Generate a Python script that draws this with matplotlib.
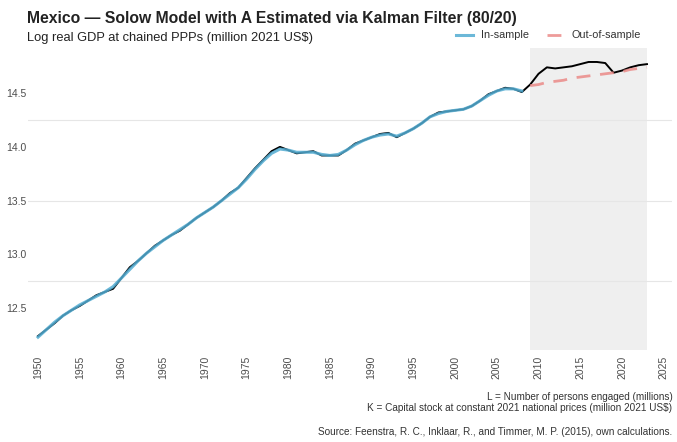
import matplotlib
matplotlib.use("Agg")
import matplotlib.pyplot as plt

plt.rcParams['font.family'] = ['Liberation Sans', 'DejaVu Sans']

# Annual observations, 1950-2023
years = list(range(1950, 2024))
actual = [12.24, 12.30, 12.36, 12.43, 12.48, 12.52, 12.57, 12.62, 12.65, 12.68,
          12.78, 12.88, 12.94, 13.01, 13.08, 13.13, 13.18, 13.22, 13.28, 13.34,
          13.39, 13.44, 13.50, 13.57, 13.62, 13.71, 13.80, 13.88, 13.96, 14.00,
          13.97, 13.94, 13.95, 13.96, 13.92, 13.92, 13.92, 13.97, 14.03, 14.06,
          14.09, 14.12, 14.13, 14.09, 14.13, 14.17, 14.22, 14.28, 14.32, 14.33,
          14.34, 14.35, 14.38, 14.43, 14.49, 14.52, 14.55, 14.54, 14.51, 14.58,
          14.68, 14.74, 14.73, 14.74, 14.75, 14.77, 14.79, 14.79, 14.78, 14.69,
          14.71, 14.74, 14.76, 14.77]

# In-sample fit, 1950-2008
fit_years = list(range(1950, 2009))
fitted = [12.23, 12.30, 12.37, 12.43, 12.48, 12.53, 12.57, 12.61, 12.65, 12.70,
          12.78, 12.86, 12.94, 13.01, 13.07, 13.13, 13.18, 13.23, 13.28, 13.34,
          13.39, 13.44, 13.50, 13.56, 13.62, 13.70, 13.79, 13.87, 13.94, 13.98,
          13.97, 13.95, 13.95, 13.95, 13.93, 13.92, 13.93, 13.97, 14.02, 14.06,
          14.09, 14.11, 14.12, 14.10, 14.13, 14.17, 14.22, 14.28, 14.31, 14.33,
          14.34, 14.35, 14.38, 14.43, 14.48, 14.52, 14.54, 14.54, 14.52]

# Out-of-sample forecast, 2009-2023
oos_years = list(range(2009, 2024))
forecast = [14.57, 14.58, 14.60, 14.61, 14.62, 14.64, 14.65, 14.66, 14.67, 14.68,
            14.69, 14.70, 14.72, 14.73, 14.74]

y_ticks = [12.5, 13.0, 13.5, 14.0, 14.5]
grid_levels = [12.75, 13.5, 14.25]
x_ticks = list(range(1950, 2030, 5))

fig = plt.figure(figsize=(6.77, 4.42), dpi=100)
ax = fig.add_axes([0.0414, 0.2081, 0.9512, 0.6833])

ax.axvspan(oos_years[0], oos_years[-1], color='#efefef', zorder=0, lw=0)
for g in grid_levels:
    ax.axhline(g, color='#e6e6e6', lw=0.8, zorder=0.5)

ax.plot(years, actual, color='black', lw=1.4, zorder=2)
ax.plot(fit_years, fitted, color='#52acd2', lw=2.2, alpha=0.85, zorder=3,
        label='In-sample')
ax.plot(oos_years, forecast, color='#eb8a88', lw=2.0, alpha=0.85, zorder=3,
        dashes=(5, 3.5), label='Out-of-sample')

ax.set_xlim(1948.8, 2026.0)
ax.set_ylim(12.11, 14.92)
ax.set_yticks(y_ticks)
ax.set_yticklabels([f"{v:.1f}" for v in y_ticks])
ax.set_xticks(x_ticks)
ax.set_xticklabels([str(v) for v in x_ticks], rotation=90)
ax.tick_params(axis='both', length=0, labelsize=7.5, colors='#4d4d4d')
ax.tick_params(axis='x', pad=4)
ax.tick_params(axis='y', pad=1)
for s in ax.spines.values():
    s.set_visible(False)

fig.text(0.04, 0.958, "Mexico \u2014 Solow Model with A Estimated via Kalman Filter (80/20)",
         fontsize=11.3, fontweight='bold', color='#222222', va='center', ha='left')
fig.text(0.04, 0.915, "Log real GDP at chained PPPs (million 2021 US$)",
         fontsize=9.3, color='#222222', va='center', ha='left')

leg = fig.legend(loc='center right', bbox_to_anchor=(0.961, 0.92), ncol=2,
                 frameon=False, fontsize=7.8, handlelength=1.5, columnspacing=1.6,
                 handletextpad=0.8)
for t in leg.get_texts():
    t.set_color('#333333')

fig.text(0.993, 0.102, "L = Number of persons engaged (millions)",
         fontsize=7.2, color='#333333', ha='right', va='center')
fig.text(0.993, 0.077, "K = Capital stock at constant 2021 national prices (million 2021 US$)",
         fontsize=7.2, color='#333333', ha='right', va='center')
fig.text(0.993, 0.022, "Source: Feenstra, R. C., Inklaar, R., and Timmer, M. P. (2015), own calculations.",
         fontsize=7.2, color='#333333', ha='right', va='center')

fig.savefig("out.png", dpi=100, facecolor='white')
